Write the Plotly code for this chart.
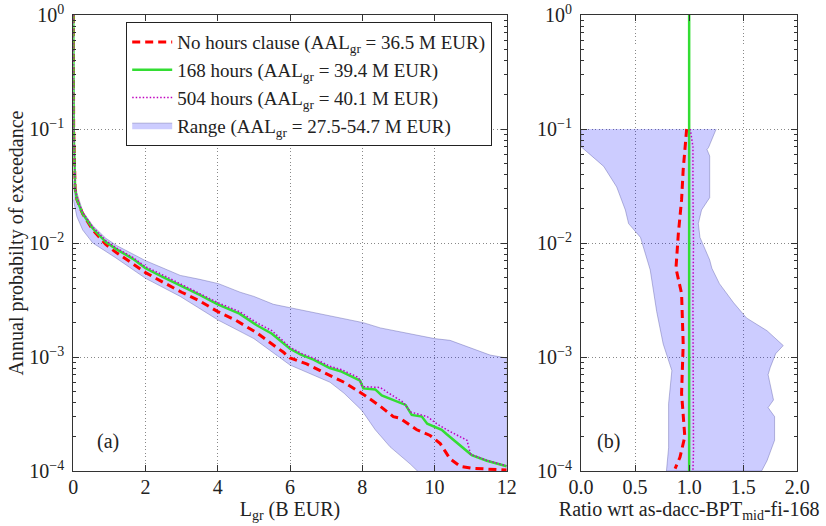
import plotly.graph_objects as go

# ---------------- data ----------------
# Panel (a): loss exceedance curves, x = L_gr (B EUR), y = annual probability
red_x = [0, 0.01, 0.05, 0.1, 0.26, 0.54, 0.9, 1.2, 1.64, 2.0, 2.5, 3.0, 3.5, 4.0, 4.5, 5.08, 5.5, 5.82, 6.0,
         6.46, 7.1, 7.5, 8.03, 8.5, 8.86, 9.05, 9.51, 9.88, 10.16, 10.43, 10.71, 11.0, 11.45, 12]
red_y = [1, 0.1, 0.03, 0.024, 0.018, 0.013, 0.0097, 0.0082, 0.0066, 0.0055, 0.0045, 0.0037, 0.0031, 0.0025,
         0.0021, 0.00163, 0.0013, 0.0011, 0.00098, 0.00087, 0.00069, 0.0006, 0.00047, 0.00037, 0.0003,
         0.00029, 0.00023, 0.000205, 0.000174, 0.000128, 0.00011, 0.000106, 0.000104, 0.000102]

green_x = [0, 0.01, 0.05, 0.1, 0.26, 0.54, 0.9, 1.2, 1.64, 2.0, 2.5, 3.0, 3.5, 4.0, 4.6, 5.08, 5.5, 6.0, 6.3,
           6.65, 7.1, 7.4, 7.94, 8.03, 8.36, 8.54, 9.2, 9.37, 9.65, 9.8, 10.2, 10.34, 10.8, 11.03, 11.45, 12]
green_y = [1, 0.1, 0.03, 0.024, 0.018, 0.0134, 0.0102, 0.0088, 0.0073, 0.006, 0.005, 0.0042, 0.0035, 0.0029,
           0.0024, 0.0019, 0.0016, 0.00118, 0.00105, 0.00095, 0.0008, 0.00075, 0.00062, 0.00053, 0.00052,
           0.00046, 0.00038, 0.00031, 0.0003, 0.00026, 0.00023, 0.00021, 0.00016, 0.000138, 0.000123, 0.00011]

mag_x = [0, 0.01, 0.05, 0.1, 0.26, 0.54, 0.9, 1.2, 1.64, 2.0, 2.5, 3.0, 3.5, 4.0, 4.6, 5.08, 5.5, 6.0, 6.3,
         6.65, 7.1, 7.4, 7.9, 8.0, 8.5, 8.7, 9.14, 9.33, 9.8, 10.06, 10.34, 10.9, 11.0, 11.45, 12]
mag_y = [1, 0.1, 0.031, 0.025, 0.0185, 0.0138, 0.0105, 0.009, 0.0075, 0.0062, 0.0052, 0.0043, 0.0036, 0.003,
         0.0025, 0.002, 0.0017, 0.00122, 0.00108, 0.00098, 0.00083, 0.00078, 0.00066, 0.00055, 0.00054,
         0.00049, 0.0004, 0.00033, 0.0003, 0.00026, 0.00023, 0.000186, 0.00014, 0.000124, 0.000111]

band_up_x = [0, 0.05, 0.26, 0.54, 0.9, 1.2, 1.64, 2.0, 2.5, 2.96, 3.5, 4.02, 4.62, 5.0, 5.54, 6.0, 6.83, 7.39,
             8.03, 8.5, 9.05, 9.5, 10.0, 10.43, 10.7, 11.08, 11.54, 12]
band_up_y = [0.035, 0.031, 0.019, 0.0142, 0.011, 0.0095, 0.0081, 0.007, 0.006, 0.0052, 0.0048, 0.0044,
             0.0037, 0.0034, 0.0029, 0.0027, 0.0024, 0.0022, 0.002, 0.0018, 0.00166, 0.00155, 0.00145,
             0.0014, 0.0013, 0.00118, 0.00104, 0.00098]
band_lo_x = [0, 0.1, 0.26, 0.54, 1.18, 2.0, 2.96, 4.02, 5.0, 6.0, 7.11, 7.5, 7.99, 8.36, 8.77, 9.33, 9.6,
             10.5, 12]
band_lo_y = [0.024, 0.017, 0.013, 0.01, 0.0074, 0.0049, 0.0034, 0.0021, 0.00145, 0.00085, 0.0006, 0.00048,
             0.00034, 0.00023, 0.000163, 0.000115, 0.000095, 0.00006, 0.00004]

# Panel (b): ratio w.r.t. reference model, y = annual probability
r_band_left_x = [0.0, 0.0, 0.21, 0.33, 0.41, 0.44, 0.55, 0.64, 0.70, 0.76, 0.84, 0.81, 0.81, 0.79]
r_band_left_y = [0.1, 0.07, 0.047, 0.031, 0.0195, 0.0148, 0.0112, 0.0058, 0.0025, 0.0013, 0.00076,
                 0.00039, 0.00016, 0.0001]
r_band_right_x = [1.25, 1.18, 1.165, 1.19, 1.19, 1.115, 1.085, 1.10, 1.19, 1.21, 1.28, 1.41, 1.53, 1.72,
                  1.87, 1.80, 1.75, 1.73, 1.78, 1.73, 1.79, 1.79, 1.72, 1.67]
r_band_right_y = [0.1, 0.069, 0.066, 0.058, 0.025, 0.0195, 0.0148, 0.0112, 0.0071, 0.006, 0.0044, 0.003,
                  0.0022, 0.0017, 0.00126, 0.00107, 0.00081, 0.0007, 0.00042, 0.00036, 0.0003, 0.000186,
                  0.000123, 0.0001]
r_red_x = [0.977, 0.945, 0.93, 0.90, 0.878, 0.93, 0.945, 0.93, 0.96, 0.915, 0.87]
r_red_y = [0.1, 0.044, 0.024, 0.012, 0.006, 0.0036, 0.0013, 0.00048, 0.0002, 0.000132, 0.000105]
r_mag_x = [1.01, 1.035, 1.035, 1.04, 1.035, 1.04, 1.04, 1.035]
r_mag_y = [0.1, 0.07, 0.03, 0.01, 0.003, 0.0005, 0.00015, 0.0001]
r_green_x = [1.0, 1.0]
r_green_y = [1.0, 0.0001]

# Labels / ticks
names = ["No hours clause (AAL<sub>gr</sub> = 36.5 M EUR)",
         "168 hours (AAL<sub>gr</sub> = 39.4 M EUR)",
         "504 hours (AAL<sub>gr</sub> = 40.1 M EUR)",
         "Range (AAL<sub>gr</sub> = 27.5-54.7 M EUR)"]
y_tickvals = [1e-4, 1e-3, 1e-2, 1e-1, 1]
y_ticktext = ["10<sup>−4</sup>", "10<sup>−3</sup>", "10<sup>−2</sup>", "10<sup>−1</sup>", "10<sup>0</sup>"]
y_minor = [m * 10.0 ** e for e in range(-4, 0) for m in range(2, 10)]
xa_tickvals = [0, 2, 4, 6, 8, 10, 12]
xb_tickvals = [0.0, 0.5, 1.0, 1.5, 2.0]
xb_ticktext = ["0.0", "0.5", "1.0", "1.5", "2.0"]

# ---------------- styles ----------------
FONT = "Liberation Serif"
RED = "#ff0000"
GREEN = "#33dd33"
MAG = "#bf00bf"
BAND_FILL = "rgba(0,0,255,0.2)"
BAND_LINE = "rgba(70,70,150,0.45)"

fig = go.Figure()

# Panel (a)
fig.add_trace(go.Scatter(x=band_up_x + band_lo_x[::-1], y=band_up_y + band_lo_y[::-1],
                         fill="toself", fillcolor=BAND_FILL, mode="lines",
                         line=dict(color=BAND_LINE, width=0.8), name=names[3], legendrank=4,
                         xaxis="x", yaxis="y"))
fig.add_trace(go.Scatter(x=red_x, y=red_y, mode="lines", name=names[0], legendrank=1,
                         line=dict(color=RED, width=3, dash="8px,5px"), xaxis="x", yaxis="y"))
fig.add_trace(go.Scatter(x=green_x, y=green_y, mode="lines", name=names[1], legendrank=2,
                         line=dict(color=GREEN, width=2.5), xaxis="x", yaxis="y"))
fig.add_trace(go.Scatter(x=mag_x, y=mag_y, mode="lines", name=names[2], legendrank=3,
                         line=dict(color=MAG, width=1.5, dash="1.5px,2px"), xaxis="x", yaxis="y"))

# Panel (b)
fig.add_trace(go.Scatter(x=r_band_left_x + r_band_right_x[::-1], y=r_band_left_y + r_band_right_y[::-1],
                         fill="toself", fillcolor=BAND_FILL, mode="lines",
                         line=dict(color=BAND_LINE, width=0.8), showlegend=False,
                         xaxis="x2", yaxis="y2"))
fig.add_trace(go.Scatter(x=r_red_x, y=r_red_y, mode="lines", showlegend=False,
                         line=dict(color=RED, width=3, dash="8px,5px"), xaxis="x2", yaxis="y2"))
fig.add_trace(go.Scatter(x=r_green_x, y=r_green_y, mode="lines", showlegend=False,
                         line=dict(color=GREEN, width=2.5), xaxis="x2", yaxis="y2"))
fig.add_trace(go.Scatter(x=r_mag_x, y=r_mag_y, mode="lines", showlegend=False,
                         line=dict(color=MAG, width=1.5, dash="1.5px,2px"), xaxis="x2", yaxis="y2"))

W, H = 826, 526
ydom = [1 - 471 / H, 1 - 15 / H]
common = dict(showline=True, linecolor="#333", linewidth=1.2, mirror="ticks", ticks="inside",
              ticklen=6, tickcolor="#333", tickwidth=1, zeroline=False, showgrid=True,
              gridcolor="#888", griddash="1px,2.5px", gridwidth=1,
              tickfont=dict(family=FONT, size=20, color="#222"))
yaxis_common = dict(common, type="log", range=[-4, 0], tickmode="array", tickvals=y_tickvals,
                    ticktext=y_ticktext, domain=ydom,
                    minor=dict(tickmode="array", tickvals=y_minor, ticks="inside", ticklen=3,
                               tickcolor="#333", showgrid=False))

fig.update_layout(
    width=W, height=H,
    margin=dict(l=0, r=0, t=0, b=0),
    paper_bgcolor="white", plot_bgcolor="white",
    font=dict(family=FONT, size=18, color="#222"),
    xaxis=dict(common, domain=[73.3 / W, 506.7 / W], range=[0, 12], tickmode="array",
               tickvals=xa_tickvals, anchor="y", automargin=False, ticklabelstandoff=-2,
               title=dict(text="L<sub>gr</sub> (B EUR)", font=dict(family=FONT, size=20), standoff=0)),
    yaxis=dict(yaxis_common, anchor="x", automargin=False, ticklabelstandoff=4,
               title=dict(text="Annual probabilty of exceedance", font=dict(family=FONT, size=20),
                          standoff=0)),
    xaxis2=dict(common, domain=[581 / W, 797.3 / W], range=[0, 2], tickmode="array",
                tickvals=xb_tickvals, ticktext=xb_ticktext, anchor="y2", automargin=False,
                ticklabelstandoff=-2,
                title=dict(text="Ratio wrt as-dacc-BPT<sub>mid</sub>-fi-168",
                           font=dict(family=FONT, size=20), standoff=0)),
    yaxis2=dict(yaxis_common, anchor="x2", automargin=False, ticklabelstandoff=4),
    legend=dict(x=126 / W, y=1 - 22 / H, xanchor="left", yanchor="top",
                bgcolor="white", bordercolor="#222", borderwidth=1.2,
                font=dict(family=FONT, size=19, color="#222"), itemwidth=40, tracegroupgap=0),
    showlegend=True,
    annotations=[
        dict(text="(a)", x=0.08, y=0.064, xref="x domain", yref="y domain", showarrow=False,
             xanchor="center", yanchor="middle", font=dict(family=FONT, size=20, color="#222")),
        dict(text="(b)", x=0.125, y=0.064, xref="x2 domain", yref="y2 domain", showarrow=False,
             xanchor="center", yanchor="middle", font=dict(family=FONT, size=20, color="#222")),
    ],
)

fig.write_html("out.html", config={"displayModeBar": False},
               post_script="document.body.style.margin='0px';document.body.style.overflow='hidden';")
